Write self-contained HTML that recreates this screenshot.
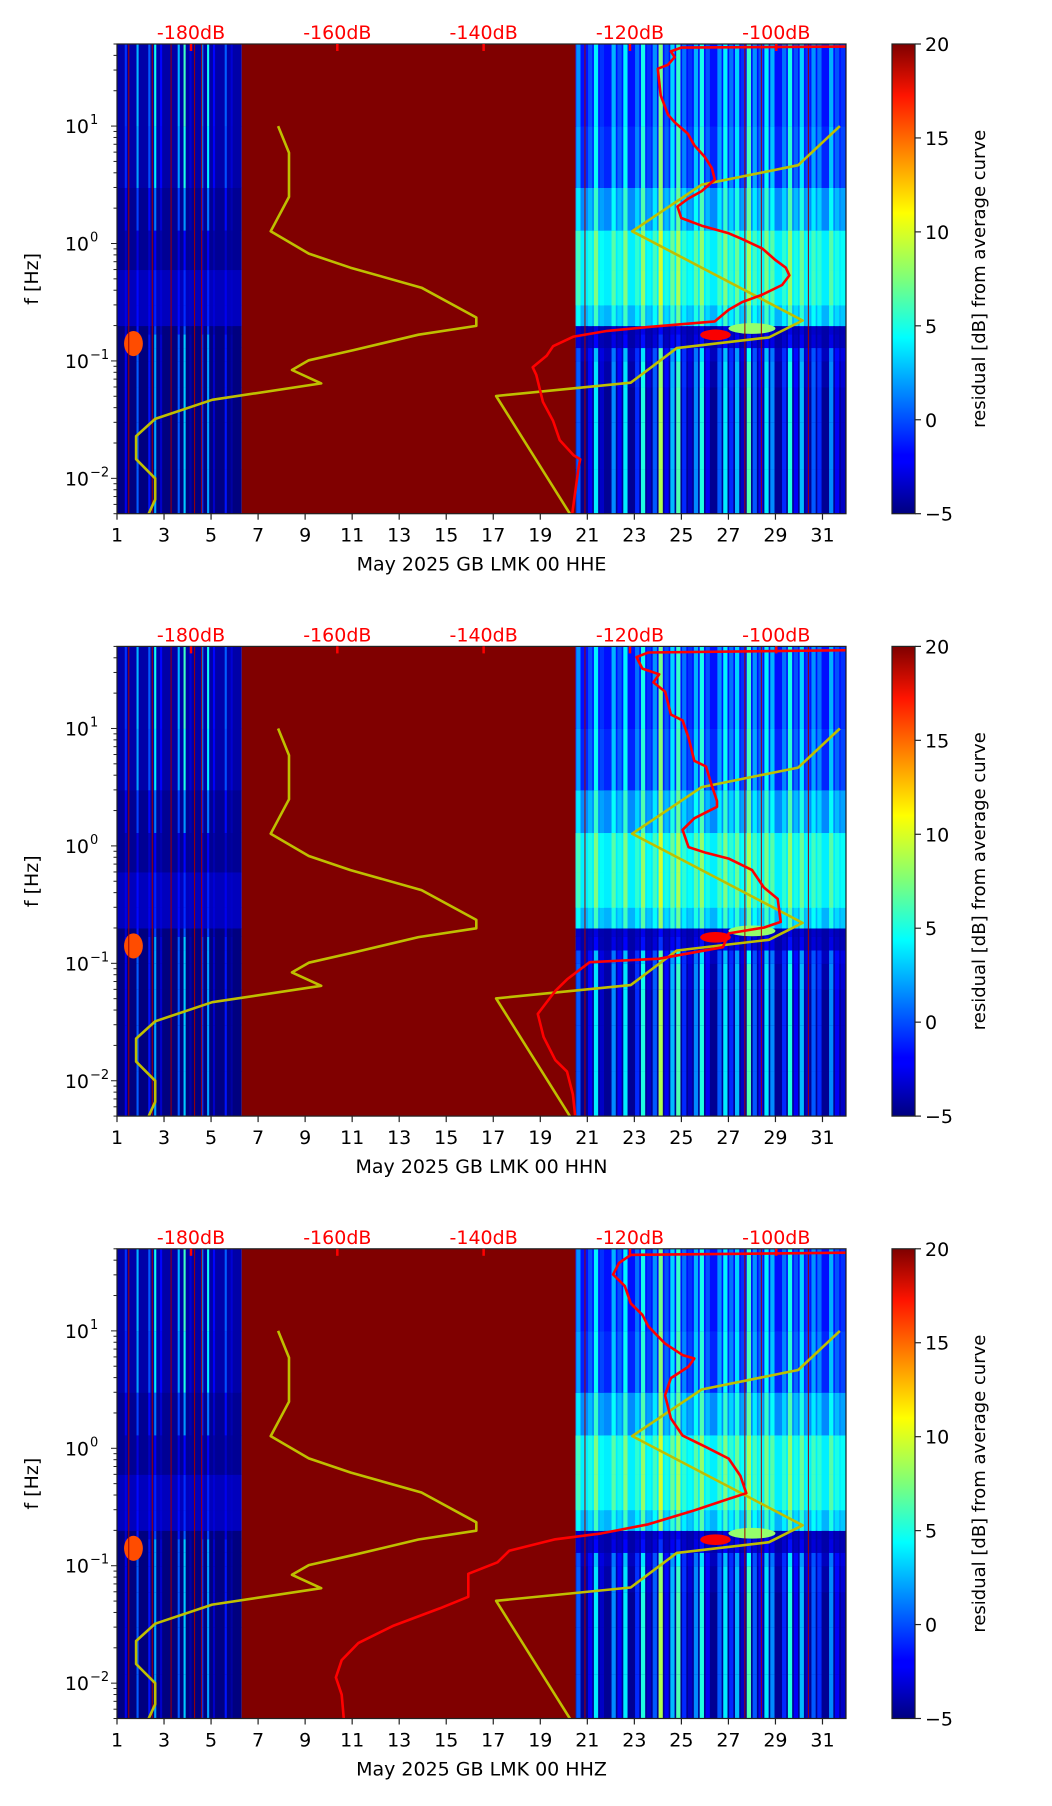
<!DOCTYPE html>
<html><head><meta charset="utf-8">
<style>
html,body{margin:0;padding:0;background:#fff;}
svg{display:block;font-family:"DejaVu Sans","Liberation Sans",sans-serif;}
</style></head>
<body>
<svg id="fig" width="1052" height="1806" viewBox="0 0 1052 1806" xmlns="http://www.w3.org/2000/svg">
<defs>
<linearGradient id="jetgrad" x1="0" y1="1" x2="0" y2="0">
<stop offset="0" stop-color="#00007f"/><stop offset="0.11" stop-color="#0000ff"/>
<stop offset="0.125" stop-color="#0000ff"/><stop offset="0.34" stop-color="#00dcff"/>
<stop offset="0.375" stop-color="#00ffff"/><stop offset="0.5" stop-color="#7dff7a"/>
<stop offset="0.64" stop-color="#ffff00"/><stop offset="0.89" stop-color="#ff1400"/>
<stop offset="1" stop-color="#7f0000"/>
</linearGradient>
</defs>
</svg>
<script>
// ---------- data ----------
const stations = ["May 2025 GB LMK 00 HHE","May 2025 GB LMK 00 HHN","May 2025 GB LMK 00 HHZ"];
const xTicks = [1,3,5,7,9,11,13,15,17,19,21,23,25,27,29,31];
const dbTicks = [-180,-160,-140,-120,-100];
const cbTicks = [-5,0,5,10,15,20];
const bandEdges = [0.005,0.012,0.03,0.06,0.1,0.13,0.17,0.2,0.3,0.6,1.3,3,10,50];
const leftBase  = [-5,-5,-5,-5,-5,-5,-5,-3.5,-3.5,-4.5,-4.5,-4,-4];
const leftWeight= [0.9,0.9,0.9,0.9,0.9,0.9,0.6,0.3,0.3,0.3,0.7,1,1.1];
const rightBase = [-4.5,-4.5,-4.5,-4,-3.5,-4,-4,2.5,4,4,1.5,-1,-1.5];
const rightWeight=[1.2,1.2,1.2,1.1,0.9,0.3,0.2,0.5,0.5,0.5,0.6,0.8,0.8];
const leftStreaks = [0,3,0,6,0,4,8,2,0,0,6,9,1,0,5,8,2,0,4,1,0];
const rightStreaks = [4,0,2,7,1,0,5,2,7,0,3,8,1,4,11,2,6,9,3,1,5,8,2,0,4,7,3,6,1,9,4,2,7,5,0,3,8,2,6,1,4,3,0,5,2,1];
const hotDay0 = [1.3,25.8,27.0];
const hotDay1 = [2.1,27.1,29.0];
const hotF0   = [0.11,0.15,0.17];
const hotF1   = [0.18,0.185,0.21];
const hotVal  = [15,17,8];
const redLineDays = [1.5,2.5,3.3,4.3,4.6,20.9,27.7,28.4,30.4];
// noise model curves (dB, log10 f)
const lowDb  = [-168.1,-166.6,-166.6,-169.1,-163.9,-158.2,-148.5,-141.0,-141.0,-148.9,-157.7,-163.9,-166.2,-162.2,-177.1,-184.9,-187.5,-187.5,-184.9,-184.9,-185.8];
const lowLf  = [1,0.772,0.397,0.104,-0.086,-0.206,-0.376,-0.630,-0.702,-0.777,-0.907,-0.995,-1.077,-1.191,-1.331,-1.494,-1.641,-1.837,-2.0,-2.179,-2.303];
const highDb = [-91.3,-97.0,-110.2,-119.7,-96.4,-101.0,-113.6,-119.9,-138.3,-128.2];
const highLf = [1,0.667,0.501,0.104,-0.656,-0.800,-0.891,-1.185,-1.299,-2.303];
// station mean curves
const redDbE = [-90.1,-113.0,-114.4,-113.9,-114.8,-116.2,-115.8,-114.8,-113.9,-112.1,-111.2,-109.8,-108.8,-108.4,-110.2,-112.1,-113.5,-113.0,-110.2,-106.5,-104.7,-101.9,-100.1,-98.7,-98.2,-99.2,-101.9,-104.7,-106.5,-108.4,-117.6,-123.1,-127.7,-130.5,-131.4,-133.3,-132.8,-131.9,-130.5,-129.6,-127.7,-126.8,-127.0,-127.9];
const redLfE = [1.678,1.668,1.636,1.587,1.522,1.489,1.261,1.098,1.033,0.935,0.837,0.739,0.641,0.544,0.446,0.380,0.315,0.217,0.152,0.087,0.039,-0.043,-0.141,-0.206,-0.272,-0.353,-0.435,-0.500,-0.565,-0.663,-0.712,-0.744,-0.793,-0.875,-0.956,-1.054,-1.119,-1.348,-1.511,-1.674,-1.804,-1.837,-1.902,-2.303];
const redDbN = [-89.9,-117.5,-119.1,-118.3,-116.0,-116.8,-115.2,-114.4,-112.8,-112.0,-111.2,-109.6,-108.9,-108.1,-108.1,-111.2,-112.8,-112.0,-109.6,-106.5,-103.3,-101.7,-99.8,-99.4,-101.7,-106.5,-107.3,-116.0,-125.5,-128.6,-130.2,-132.6,-131.8,-130.2,-128.6,-127.8,-127.5];
const redLfN = [1.667,1.647,1.608,1.51,1.461,1.392,1.314,1.118,1.069,0.922,0.725,0.676,0.529,0.382,0.333,0.235,0.137,-0.01,-0.059,-0.108,-0.206,-0.353,-0.451,-0.647,-0.696,-0.745,-0.863,-0.961,-0.99,-1.137,-1.235,-1.431,-1.627,-1.824,-1.922,-2.118,-2.294];
const redDbZ = [-89.9,-119.9,-121.5,-122.3,-120.7,-119.9,-118.3,-117.5,-115.2,-112.8,-111.2,-112.0,-114.4,-115.2,-114.4,-112.8,-109.6,-106.5,-104.9,-104.1,-106.5,-111.2,-117.5,-123.9,-130.2,-136.5,-138.1,-142.1,-142.1,-146.0,-152.3,-157.1,-159.4,-160.2,-159.4,-159.1];
const redLfZ = [1.667,1.647,1.578,1.48,1.382,1.235,1.137,1.039,0.892,0.794,0.765,0.696,0.598,0.451,0.255,0.108,0.01,-0.088,-0.235,-0.382,-0.431,-0.529,-0.647,-0.725,-0.775,-0.873,-0.971,-1.069,-1.265,-1.363,-1.51,-1.657,-1.804,-1.951,-2.098,-2.314];
const redDbs = [redDbE,redDbN,redDbZ];
const redLfs = [redLfE,redLfN,redLfZ];

// ---------- layout ----------
const NS="http://www.w3.org/2000/svg";
const svg=document.getElementById('fig');
const PL=117, PW=729, PH=469.7, TOP0=44, STEP=602.4;
const XMIN=1, XMAX=32, LFMIN=Math.log10(0.005), LFMAX=Math.log10(50);
const CBX=892, CBW=23;
function mk(tag,attrs,parent){const e=document.createElementNS(NS,tag);for(const k in attrs)e.setAttribute(k,attrs[k]);(parent||svg).appendChild(e);return e;}
function jet(v){let t=(v+5)/25;t=Math.max(0,Math.min(1,t));
 const r=Math.max(0,Math.min(1,1.5-Math.abs(4*t-3))),g=Math.max(0,Math.min(1,1.5-Math.abs(4*t-2))),b=Math.max(0,Math.min(1,1.5-Math.abs(4*t-1)));
 return `rgb(${Math.round(r*255)},${Math.round(g*255)},${Math.round(b*255)})`;}

for(let p=0;p<3;p++){
 const top=TOP0+STEP*p;
 const xs=d=>PL+(d-XMIN)/(XMAX-XMIN)*PW;
 const ysl=lf=>top+(LFMAX-lf)/(LFMAX-LFMIN)*PH;
 const ysf=f=>ysl(Math.log10(f));
 const xdb=db=>191+(db+180)*7.316;
 const g=mk('g',{});
 
 
 const cid='clip'+p;
 const cp=mk('clipPath',{id:cid},g); mk('rect',{x:PL,y:top,width:PW,height:PH},cp);
 const hm=mk('g',{'clip-path':`url(#${cid})`},g);
 
 
 const mid=mk('rect',{x:xs(6.3),y:top,width:xs(20.5)-xs(6.3),height:PH,fill:jet(20)},hm);
 
 
 for(let b=0;b<bandEdges.length-1;b++){
  const y0=ysf(bandEdges[b+1]),y1=ysf(bandEdges[b]);
  const lb=mk('rect',{x:xs(1),y:y0,width:xs(6.3)-xs(1),height:y1-y0+0.5,fill:jet(leftBase[b])},hm);
  
  
  const rb=mk('rect',{x:xs(20.5),y:y0,width:xs(32)-xs(20.5),height:y1-y0+0.5,fill:jet(rightBase[b])},hm);
  
  
  for(let c=0;c<leftStreaks.length;c++){
   if(leftStreaks[c]<=0)continue;
   const d0=1+c*0.25+0.08;
   const r=mk('rect',{x:xs(d0),y:y0,width:xs(0.09+XMIN)-xs(XMIN),height:y1-y0+0.5,fill:jet(leftBase[b]+leftStreaks[c]*leftWeight[b])},hm);
   
   
  }
  for(let c=0;c<rightStreaks.length;c++){
   if(rightStreaks[c]<=0)continue;
   const d0=20.5+c*0.25+0.03;
   const r=mk('rect',{x:xs(d0),y:y0,width:xs(0.18+XMIN)-xs(XMIN),height:y1-y0+0.5,fill:jet(rightBase[b]+rightStreaks[c]*rightWeight[b])},hm);
   
   
  }
 }
 for(let h=0;h<hotVal.length;h++){
  const r=mk('ellipse',{cx:(xs(hotDay0[h])+xs(hotDay1[h]))/2,cy:(ysf(hotF1[h])+ysf(hotF0[h]))/2,rx:(xs(hotDay1[h])-xs(hotDay0[h]))/2,ry:(ysf(hotF0[h])-ysf(hotF1[h]))/2,fill:jet(hotVal[h])},hm);
  
  
 }
 for(const d of redLineDays){
  const l=mk('line',{x1:xs(d),x2:xs(d),y1:top,y2:top+PH,stroke:'#a00000','stroke-width':1},hm);
  
  
 }
 const poly=(dbs,lfs,col,name)=>{const pts=dbs.map((v,i)=>xdb(v).toFixed(1)+','+ysl(lfs[i]).toFixed(1)).join(' ');
  const pl=mk('polyline',{points:pts,fill:'none',stroke:col,'stroke-width':2.6,'stroke-linejoin':'round'},hm);
  
  };
 poly(lowDb,lowLf,'#bfbf00','low-noise-model-line');
 poly(highDb,highLf,'#bfbf00','high-noise-model-line');
 poly(redDbs[p],redLfs[p],'#ff0000','mean-psd-curve');
 const fr=mk('rect',{x:PL,y:top,width:PW,height:PH,fill:'none',stroke:'#222','stroke-width':1.2},g);
 
 
 for(const t of xTicks){
  const x=xs(t);
  mk('line',{x1:x,x2:x,y1:top+PH,y2:top+PH+6,stroke:'#222','stroke-width':1.2},g);
  const tx=mk('text',{x:x,y:top+PH+28,'font-size':19,'text-anchor':'middle',fill:'#000'},g);
  tx.textContent=t;
  
  
 }
 const xl=mk('text',{x:PL+PW/2,y:top+PH+57,'font-size':19,'text-anchor':'middle',fill:'#000'},g);
 xl.textContent=stations[p];
 
 
 for(const t of dbTicks){
  const x=xdb(t);
  mk('line',{x1:x,x2:x,y1:top,y2:top+7,stroke:'#ff0000','stroke-width':2.5},g);
  const tx=mk('text',{x:x,y:top-5,'font-size':19,'text-anchor':'middle',fill:'#ff0000'},g);
  tx.textContent=t+'dB';
  
  
 }
 for(let e=-3;e<=1;e++){
  for(let m=1;m<=9;m++){
   const f=m*Math.pow(10,e); if(f<0.005||f>50)continue;
   const y=ysf(f);
   mk('line',{x1:PL,x2:PL-(m===1?6:3.5),y1:y,y2:y,stroke:'#222','stroke-width':1},g);
   if(m===1){
    const tx=mk('text',{x:PL-28,y:y+7,'font-size':19,'text-anchor':'end',fill:'#000'},g);
    tx.textContent='10';
    
    
    const sp=mk('text',{x:PL-27,y:y-2,'font-size':13,'text-anchor':'start',fill:'#000'},g);
    sp.textContent=(e<0?'\u2212':'')+Math.abs(e);
    
    
   }
  }
 }
 const yl=mk('text',{x:0,y:0,'font-size':19,'text-anchor':'middle',fill:'#000',transform:`translate(38,${top+PH/2}) rotate(-90)`},g);
 yl.textContent='f [Hz]';
 
 
 const cb=mk('rect',{x:CBX,y:top,width:CBW,height:PH,fill:'url(#jetgrad)',stroke:'#222','stroke-width':1.2},g);
 
 
 for(const t of cbTicks){
  const y=top+PH-(t+5)/25*PH;
  mk('line',{x1:CBX+CBW,x2:CBX+CBW+6,y1:y,y2:y,stroke:'#222','stroke-width':1.2},g);
  const tx=mk('text',{x:CBX+CBW+10,y:y+7,'font-size':19,'text-anchor':'start',fill:'#000'},g);
  tx.textContent=(t<0?'\u2212':'')+Math.abs(t);
  
  
 }
 const cl=mk('text',{x:0,y:0,'font-size':18,'text-anchor':'middle',fill:'#000',transform:`translate(985,${top+PH/2}) rotate(-90)`},g);
 cl.textContent='residual [dB] from average curve';
 
 
}
</script>
</body></html>
